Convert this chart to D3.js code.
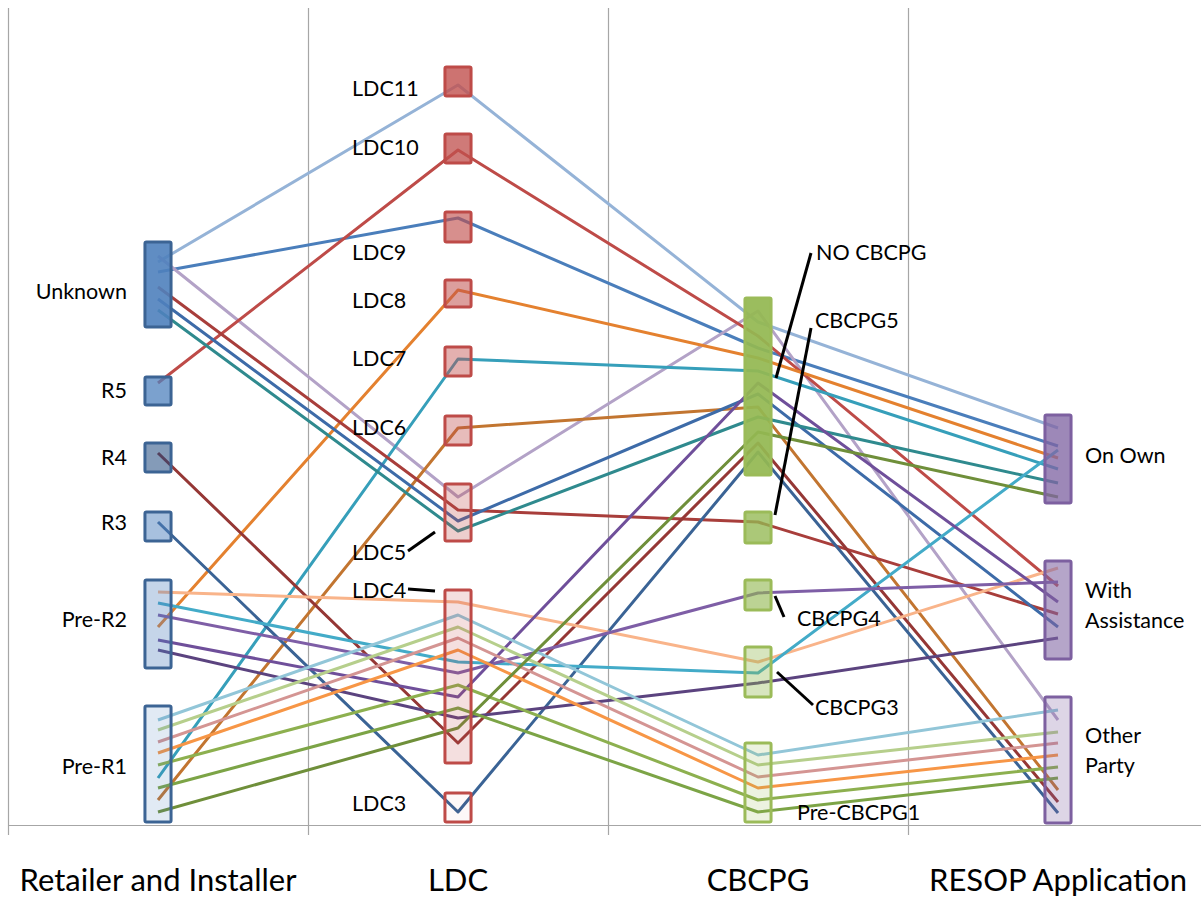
<!DOCTYPE html>
<html>
<head>
<meta charset="utf-8">
<script src="https://cdn.jsdelivr.net/npm/d3@7/dist/d3.min.js"></script>
<style>
  body { margin: 0; background: #fff; }
  text { font-family: Lato, "Open Sans", sans-serif; fill: #000; }
</style>
</head>
<body>
<svg id="chart" width="1201" height="898"></svg>
<script>
// ---- data -------------------------------------------------------------
const stages = ["Retailer and Installer", "LDC", "CBCPG", "RESOP Application"];

// node extents along the vertical value axis: [name, low, high]
const retailerNodes = [
  ["Unknown", 49.8, 58.3], ["R5", 42.0, 44.8], ["R4", 35.3, 38.2],
  ["R3", 28.4, 31.3], ["Pre-R2", 15.7, 24.5], ["Pre-R1", 0.3, 11.9]
];
const ldcNodes = [
  ["LDC11", 72.9, 75.8], ["LDC10", 66.2, 69.1], ["LDC9", 58.3, 61.3],
  ["LDC8", 51.8, 54.5], ["LDC7", 44.9, 47.8], ["LDC6", 38.0, 40.9],
  ["LDC5", 28.4, 34.1], ["LDC4", 6.2, 23.5], ["LDC3", 0.3, 3.2]
];
const cbcpgNodes = [
  ["NO CBCPG", 35.0, 52.7], ["CBCPG5", 28.2, 31.3], ["CBCPG4", 21.5, 24.5],
  ["CBCPG3", 12.8, 17.8], ["Pre-CBCPG1", 0.3, 8.2]
];
const resopNodes = [
  ["On Own", 32.2, 41.0], ["With Assistance", 16.6, 26.4], ["Other Party", 0.2, 12.8]
];

// one path per respondent: value at each of the four stages
const pathValues = [
  [56.3, 74.0, 50.3, 39.7],
  [55.3, 60.7, 47.7, 37.9],
  [56.9, 32.8, 51.4, 10.5],
  [44.2, 67.5, 48.9, 23.9],
  [19.8, 53.5, 46.7, 36.7],
  [4.7, 46.6, 45.4, 35.6],
  [2.5, 39.7, 41.8, 3.5],
  [53.8, 31.5, 30.3, 21.1],
  [52.6, 30.4, 43.1, 19.8],
  [51.5, 29.4, 40.8, 34.2],
  [37.2, 8.2, 38.2, 2.3],
  [30.3, 1.3, 37.3, 1.2],
  [23.3, 22.3, 16.3, 25.7],
  [22.2, 16.3, 15.2, 37.5],
  [21.0, 15.2, 23.2, 24.3],
  [18.5, 12.8, 44.2, 22.3],
  [17.5, 10.7, 14.2, 18.7],
  [10.5, 21.0, 7.0, 11.5],
  [9.5, 19.8, 6.0, 9.3],
  [8.3, 18.7, 4.8, 8.2],
  [7.2, 17.5, 3.7, 7.0],
  [6.0, 14.0, 2.5, 5.8],
  [3.7, 11.7, 1.3, 4.7],
  [1.3, 9.7, 39.3, 32.8]
];
const pathColors = [
  "#95B3D7", "#4A7EBB", "#B3A2C7", "#BE4B48", "#E4812F", "#369FBA",
  "#C27530", "#A83E3B", "#3D6BA8", "#2F8A8E", "#953735", "#3A6395",
  "#F9B48A", "#43ABC8", "#7E5EA6", "#6F4F9A", "#5B437F", "#92C6D8",
  "#B6CF8C", "#D49593", "#F79646", "#8DB04F", "#7CA446", "#6F8F3A"
];

// ---- styling ----------------------------------------------------------
const stageStyle = [
  { nodes: retailerNodes, stroke: "#3C6494", fill: "#4F81BD" },
  { nodes: ldcNodes,      stroke: "#BE4B48", fill: "#C0504D" },
  { nodes: cbcpgNodes,    stroke: "#9BBB59", fill: "#93B852" },
  { nodes: resopNodes,    stroke: "#7D60A0", fill: "#8064A2" }
];
const nodeOpacity = {
  "Unknown": 0.9, "R5": 0.75, "R4": 0.55, "R3": 0.5, "Pre-R2": 0.33, "Pre-R1": 0.17,
  "LDC11": 0.8, "LDC10": 0.76, "LDC9": 0.64, "LDC8": 0.55, "LDC7": 0.45,
  "LDC6": 0.38, "LDC5": 0.28, "LDC4": 0.18, "LDC3": 0.04,
  "NO CBCPG": 0.93, "CBCPG5": 0.78, "CBCPG4": 0.62, "CBCPG3": 0.37, "Pre-CBCPG1": 0.18,
  "On Own": 0.77, "With Assistance": 0.58, "Other Party": 0.27
};
const nodeFillOverride = { "R4": "#1F497D" };

// label placement: [stage, dx from stage centre, anchor, value, text lines]
const nodeLabels = [
  [0, -31, "end", 53.4, ["Unknown"]], [0, -31, "end", 43.5, ["R5"]],
  [0, -31, "end", 36.8, ["R4"]], [0, -31, "end", 30.3, ["R3"]],
  [0, -31, "end", 20.6, ["Pre-R2"]], [0, -31, "end", 5.9, ["Pre-R1"]],
  [1, -106, "start", 73.7, ["LDC11"]], [1, -106, "start", 67.8, ["LDC10"]],
  [1, -106, "start", 57.3, ["LDC9"]], [1, -106, "start", 52.5, ["LDC8"]],
  [1, -106, "start", 46.7, ["LDC7"]], [1, -106, "start", 39.8, ["LDC6"]],
  [1, -106, "start", 27.3, ["LDC5"]], [1, -106, "start", 23.5, ["LDC4"]],
  [1, -106, "start", 2.2, ["LDC3"]],
  [2, 58, "start", 57.3, ["NO CBCPG"]], [2, 57, "start", 50.5, ["CBCPG5"]],
  [2, 39, "start", 20.7, ["CBCPG4"]], [2, 57, "start", 11.8, ["CBCPG3"]],
  [2, 39, "start", 1.3, ["Pre-CBCPG1"]],
  [3, 27, "start", 37.0, ["On Own"]], [3, 27, "start", 23.5, ["With", "Assistance"]],
  [3, 27, "start", 9.0, ["Other", "Party"]]
];
// leader lines: [stage, dx1, value1, dx2, value2]
const leaders = [
  [1, -50, 27.4, -23, 29.3],
  [1, -50, 23.6, -23, 23.4],
  [2, 53, 57.2, 18, 44.7],
  [2, 53, 49.7, 17, 31.0],
  [2, 17, 22.9, 26, 20.8],
  [2, 19, 15.3, 55, 12.0]
];

// ---- scales -----------------------------------------------------------
const svg = d3.select("#chart");
const x = d3.scaleBand().domain(stages).range([8, 1208]).padding(0);
const y = d3.scaleLinear().domain([0, 81.7]).range([825, 8]);
const cx = i => x(stages[i]) + x.bandwidth() / 2;

// ---- grid and axis ----------------------------------------------------
const grid = svg.append("g");
grid.selectAll("line.v").data(stages).join("line")
  .attr("x1", d => x(d) + 0.5).attr("x2", d => x(d) + 0.5)
  .attr("y1", y(81.7)).attr("y2", y(0) + 10)
  .attr("stroke", "#A6A6A6").attr("stroke-width", 1.2);
grid.append("line")
  .attr("x1", x(stages[0])).attr("x2", 1201)
  .attr("y1", y(0) + 0.5).attr("y2", y(0) + 0.5)
  .attr("stroke", "#A6A6A6").attr("stroke-width", 1.2);

svg.append("g").selectAll("text").data(stages).join("text")
  .attr("x", (d, i) => cx(i)).attr("y", 891)
  .attr("text-anchor", "middle")
  .style("font-size", "31px")
  .text(d => d);

// ---- paths ------------------------------------------------------------
const line = d3.line().x((d, i) => cx(i)).y(d => y(d));
svg.append("g").selectAll("path").data(pathValues).join("path")
  .attr("d", line)
  .attr("fill", "none")
  .attr("stroke", (d, i) => pathColors[i])
  .attr("stroke-width", 3)
  .attr("stroke-linejoin", "round");

// ---- nodes ------------------------------------------------------------
const boxW = x.bandwidth() * 0.087;
stageStyle.forEach((st, si) => {
  svg.append("g").selectAll("rect").data(st.nodes).join("rect")
    .attr("x", cx(si) - boxW / 2)
    .attr("width", boxW)
    .attr("y", d => y(d[2]))
    .attr("height", d => y(d[1]) - y(d[2]))
    .attr("rx", 1.5)
    .attr("fill", d => nodeFillOverride[d[0]] || st.fill)
    .attr("fill-opacity", d => nodeOpacity[d[0]])
    .attr("stroke", st.stroke)
    .attr("stroke-width", 3);
});

// ---- labels and leaders ----------------------------------------------
svg.append("g").selectAll("line").data(leaders).join("line")
  .attr("x1", d => cx(d[0]) + d[1]).attr("y1", d => y(d[2]))
  .attr("x2", d => cx(d[0]) + d[3]).attr("y2", d => y(d[4]))
  .attr("stroke", "#000").attr("stroke-width", 3);

const labels = svg.append("g").selectAll("text").data(nodeLabels).join("text")
  .attr("x", d => cx(d[0]) + d[1])
  .attr("y", d => y(d[3]))
  .attr("text-anchor", d => d[2])
  .attr("dominant-baseline", "central")
  .style("font-size", "21.5px");
labels.each(function (d) {
  const t = d3.select(this);
  d[4].forEach((s, k) => {
    t.append("tspan").attr("x", cx(d[0]) + d[1]).attr("dy", k === 0 ? 0 : 30).text(s);
  });
});
</script>
</body>
</html>
